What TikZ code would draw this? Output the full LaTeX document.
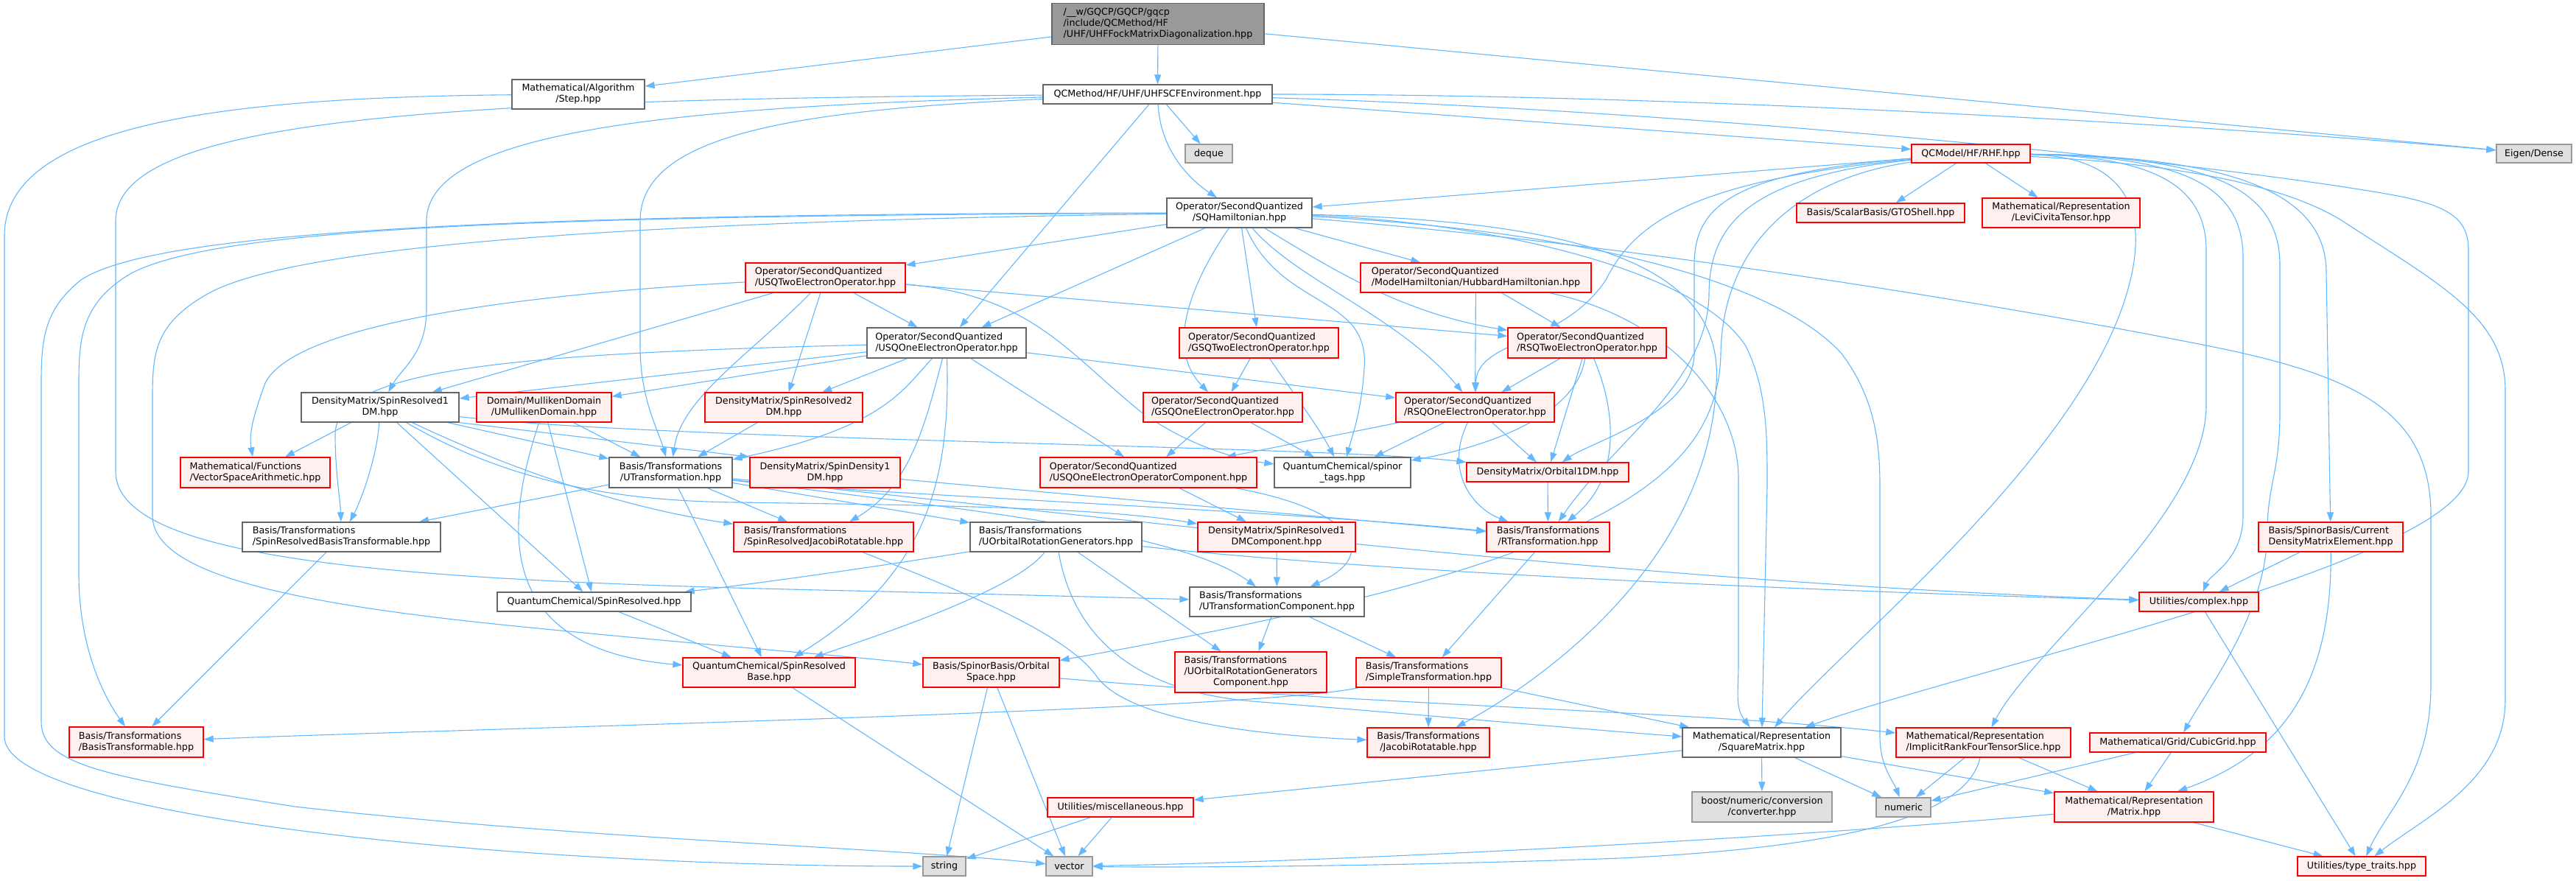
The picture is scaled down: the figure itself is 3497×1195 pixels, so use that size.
\documentclass[tikz,border=0pt]{standalone}
\usepackage{fontspec}
\setmainfont{DejaVu Sans}
\usetikzlibrary{arrows.meta}
\definecolor{edgeblue}{HTML}{63B8FF}
\definecolor{rfill}{HTML}{FFF0F0}
\definecolor{gfill}{HTML}{E0E0E0}
\definecolor{gborder}{HTML}{999999}
\definecolor{wborder}{HTML}{666666}
\definecolor{rootfill}{HTML}{999999}
\newcommand{\twol}[2]{\begin{tabular}{@{}l@{}}#1\\\multicolumn{1}{@{}c@{}}{#2}\end{tabular}}
\newcommand{\threel}[3]{\begin{tabular}{@{}l@{}}#1\\#2\\\multicolumn{1}{@{}c@{}}{#3}\end{tabular}}
\pgfdeclarelayer{edges}
\pgfsetlayers{edges,main}
\tikzset{
  box/.style={line width=1.3bp, inner sep=0pt, text=black, font=\fontsize{12.7bp}{15bp}\selectfont, minimum height=26bp},
  wbox/.style={box, draw=wborder, fill=white},
  rbox/.style={box, draw=red, fill=rfill},
  gbox/.style={box, draw=gborder, fill=gfill},
  rootbox/.style={box, draw=wborder, fill=rootfill},
  e/.style={draw=edgeblue, line width=1.1bp, -{Triangle[length=13bp,width=9bp]}}
}
\begin{document}
\begin{tikzpicture}[x=1bp,y=-1bp]
\useasboundingbox (0,0) rectangle (3497,1195);
% nodes
\node[rootbox, minimum width=288bp, minimum height=56bp] (root) at (1572,32.5) {\threel{/\_\_w/GQCP/GQCP/gqcp}{/include/QCMethod/HF}{/UHF/UHFFockMatrixDiagonalization.hpp}};
\node[wbox, minimum width=180bp, minimum height=40bp] (step) at (785,128) {\twol{Mathematical/Algorithm}{/Step.hpp}};
\node[wbox, minimum width=311bp] (uhfscf) at (1571.5,128) {QCMethod/HF/UHF/UHFSCFEnvironment.hpp};
\node[gbox, minimum width=64bp, minimum height=25bp] (deque) at (1641,208.5) {deque};
\node[rbox, minimum width=161bp, minimum height=25bp] (rhf) at (2675.5,208.5) {QCModel/HF/RHF.hpp};
\node[gbox, minimum width=102bp, minimum height=25bp] (eigen) at (3440,208.5) {Eigen/Dense};
\node[wbox, minimum width=197bp, minimum height=40bp] (sqham) at (1682.5,289) {\twol{Operator/SecondQuantized}{/SQHamiltonian.hpp}};
\node[rbox, minimum width=228bp] (gto) at (2553,289) {Basis/ScalarBasis/GTOShell.hpp};
\node[rbox, minimum width=214bp, minimum height=40bp] (levi) at (2798,289) {\twol{Mathematical/Representation}{/LeviCivitaTensor.hpp}};
\node[rbox, minimum width=217bp, minimum height=40bp] (usq2) at (1120.5,377) {\twol{Operator/SecondQuantized}{/USQTwoElectronOperator.hpp}};
\node[rbox, minimum width=313bp, minimum height=40bp] (hub) at (2003.5,377) {\twol{Operator/SecondQuantized}{/ModelHamiltonian/HubbardHamiltonian.hpp}};
\node[wbox, minimum width=216bp, minimum height=41bp] (usq1) at (1285,465.5) {\twol{Operator/SecondQuantized}{/USQOneElectronOperator.hpp}};
\node[rbox, minimum width=216bp, minimum height=41bp] (gsq2) at (1709,465.5) {\twol{Operator/SecondQuantized}{/GSQTwoElectronOperator.hpp}};
\node[rbox, minimum width=215bp, minimum height=41bp] (rsq2) at (2154.5,465.5) {\twol{Operator/SecondQuantized}{/RSQTwoElectronOperator.hpp}};
\node[wbox, minimum width=214bp, minimum height=40bp] (sr1dm) at (516,553) {\twol{DensityMatrix/SpinResolved1}{DM.hpp}};
\node[rbox, minimum width=183bp, minimum height=40bp] (umd) at (738.5,553) {\twol{Domain/MullikenDomain}{/UMullikenDomain.hpp}};
\node[rbox, minimum width=214bp, minimum height=40bp] (sr2dm) at (1064,553) {\twol{DensityMatrix/SpinResolved2}{DM.hpp}};
\node[rbox, minimum width=216bp, minimum height=40bp] (gsq1) at (1660,553) {\twol{Operator/SecondQuantized}{/GSQOneElectronOperator.hpp}};
\node[rbox, minimum width=215bp, minimum height=40bp] (rsq1) at (2002.5,553) {\twol{Operator/SecondQuantized}{/RSQOneElectronOperator.hpp}};
\node[rbox, minimum width=203bp, minimum height=41bp] (vsa) at (346.5,641.5) {\twol{Mathematical/Functions}{/VectorSpaceArithmetic.hpp}};
\node[wbox, minimum width=167bp, minimum height=41bp] (utr) at (910.5,641.5) {\twol{Basis/Transformations}{/UTransformation.hpp}};
\node[rbox, minimum width=204bp, minimum height=41bp] (sd1dm) at (1120,641.5) {\twol{DensityMatrix/SpinDensity1}{DM.hpp}};
\node[rbox, minimum width=294bp, minimum height=41bp] (usq1c) at (1559,641.5) {\twol{Operator/SecondQuantized}{/USQOneElectronOperatorComponent.hpp}};
\node[wbox, minimum width=185bp, minimum height=41bp] (spt) at (1822.5,641.5) {\twol{QuantumChemical/spinor}{\_tags.hpp}};
\node[rbox, minimum width=220bp] (o1dm) at (2101,641) {DensityMatrix/Orbital1DM.hpp};
\node[wbox, minimum width=269bp, minimum height=40bp] (srbt) at (463.5,729) {\twol{Basis/Transformations}{/SpinResolvedBasisTransformable.hpp}};
\node[rbox, minimum width=244bp, minimum height=40bp] (srjr) at (1118,729) {\twol{Basis/Transformations}{/SpinResolvedJacobiRotatable.hpp}};
\node[wbox, minimum width=233bp, minimum height=40bp] (uorg) at (1433.5,729) {\twol{Basis/Transformations}{/UOrbitalRotationGenerators.hpp}};
\node[rbox, minimum width=214bp, minimum height=40bp] (sr1dmc) at (1733,729) {\twol{DensityMatrix/SpinResolved1}{DMComponent.hpp}};
\node[rbox, minimum width=167bp, minimum height=40bp] (rtr) at (2101.5,729) {\twol{Basis/Transformations}{/RTransformation.hpp}};
\node[rbox, minimum width=196bp, minimum height=40bp] (cdme) at (3164,729) {\twol{Basis/SpinorBasis/Current}{DensityMatrixElement.hpp}};
\node[wbox, minimum width=263bp] (srv) at (806.5,817) {QuantumChemical/SpinResolved.hpp};
\node[wbox, minimum width=237bp, minimum height=40bp] (utc) at (1733.5,817) {\twol{Basis/Transformations}{/UTransformationComponent.hpp}};
\node[rbox, minimum width=162bp] (cplx) at (2985,817) {Utilities/complex.hpp};
\node[rbox, minimum width=234bp, minimum height=40bp] (srb) at (1044,913) {\twol{QuantumChemical/SpinResolved}{Base.hpp}};
\node[rbox, minimum width=185bp, minimum height=40bp] (osp) at (1345.5,913) {\twol{Basis/SpinorBasis/Orbital}{Space.hpp}};
\node[rbox, minimum width=206bp, minimum height=55bp] (uorgc) at (1698,912.5) {\threel{Basis/Transformations}{/UOrbitalRotationGenerators}{Component.hpp}};
\node[rbox, minimum width=197bp, minimum height=40bp] (stre) at (1939.5,913) {\twol{Basis/Transformations}{/SimpleTransformation.hpp}};
\node[rbox, minimum width=182bp, minimum height=41bp] (btf) at (185,1007.5) {\twol{Basis/Transformations}{/BasisTransformable.hpp}};
\node[rbox, minimum width=166bp, minimum height=40bp] (jac) at (1939,1008) {\twol{Basis/Transformations}{/JacobiRotatable.hpp}};
\node[wbox, minimum width=215bp, minimum height=40bp] (sqm) at (2391.5,1008) {\twol{Mathematical/Representation}{/SquareMatrix.hpp}};
\node[rbox, minimum width=237bp, minimum height=40bp] (ir4) at (2692.5,1008) {\twol{Mathematical/Representation}{/ImplicitRankFourTensorSlice.hpp}};
\node[rbox, minimum width=239bp] (cgrid) at (2956.5,1008) {Mathematical/Grid/CubicGrid.hpp};
\node[gbox, minimum width=190bp, minimum height=41bp] (boost) at (2392,1095.5) {\twol{boost/numeric/conversion}{/converter.hpp}};
\node[rbox, minimum width=198bp] (misc) at (1521,1096) {Utilities/miscellaneous.hpp};
\node[gbox, minimum width=74bp] (numeric) at (2584,1096) {numeric};
\node[rbox, minimum width=216bp, minimum height=41bp] (matrix) at (2897,1095.5) {\twol{Mathematical/Representation}{/Matrix.hpp}};
\node[gbox, minimum width=58bp] (string) at (1282,1176) {string};
\node[gbox, minimum width=63bp] (vector) at (1451.5,1176) {vector};
\node[rbox, minimum width=174bp] (tt) at (3206,1176) {Utilities/type\_traits.hpp};

\begin{pgfonlayer}{edges}
\fill[white] (0,0) rectangle (3497,1195);
% root
\draw[e] (root) -- (step);
\draw[e] (root) -- (uhfscf);
\draw[e] (root) -- (eigen);
% step
\draw[e] (step) .. controls (300,132) and (6,170) .. (6,320) -- (6,1000) .. controls (6,1110) and (700,1176) .. (string);
% uhfscf
\draw[e] (uhfscf) -- (deque);
\draw[e] (uhfscf) .. controls (1575,200) and (1610,240) .. (sqham);
\draw[e] (uhfscf) -- (rhf);
\draw[e] (uhfscf) .. controls (2300,128) and (3000,170) .. (eigen);
\draw[e] (uhfscf) -- (usq1);
\draw[e] (uhfscf) .. controls (900,145) and (579,180) .. (579,300) -- (579,420) .. controls (579,480) and (545,500) .. (sr1dm);
\draw[e] (uhfscf) .. controls (1050,150) and (869,190) .. (869,300) -- (869,470) .. controls (869,540) and (892,580) .. (utr);
\draw[e] (uhfscf) .. controls (600,135) and (157,160) .. (157,300) -- (157,640) .. controls (157,770) and (600,790) .. (1200,803) .. controls (1400,808) and (1550,812) .. (utc);
\draw[e] (uhfscf) .. controls (2300,150) and (3000,220) .. (3250,265) .. controls (3330,280) and (3351,300) .. (3351,340) -- (3351,640) .. controls (3351,760) and (2700,900) .. (sqm);
% rhf
\draw[e] (rhf) -- (sqham);
\draw[e] (rhf) -- (gto);
\draw[e] (rhf) -- (levi);
\draw[e] (rhf) .. controls (2300,245) and (2220,300) .. (2180,380) .. controls (2120,470) and (2005,460) .. (rsq1);
\draw[e] (rhf) .. controls (2350,235) and (2300,280) .. (2300,360) -- (2300,480) .. controls (2300,560) and (2160,600) .. (o1dm);
\draw[e] (rhf) .. controls (2380,240) and (2320,300) .. (2320,400) .. controls (2318,520) and (2190,600) .. (rtr);
\draw[e] (rhf) .. controls (2420,245) and (2338,350) .. (2336,480) .. controls (2332,660) and (2150,770) .. (osp);
\draw[e] (rhf) .. controls (2880,212) and (2930,280) .. (2880,420) .. controls (2800,640) and (2500,880) .. (sqm);
\draw[e] (rhf) .. controls (2920,212) and (2995,250) .. (2995,340) -- (2995,550) .. controls (2995,700) and (2760,880) .. (ir4);
\draw[e] (rhf) .. controls (2960,212) and (3045,250) .. (3045,350) -- (3045,700) .. controls (3045,760) and (3000,780) .. (cplx);
\draw[e] (rhf) .. controls (3000,212) and (3095,255) .. (3095,360) -- (3095,560) .. controls (3095,640) and (3078,660) .. (3078,720) .. controls (3078,830) and (3000,930) .. (cgrid);
\draw[e] (rhf) .. controls (3050,212) and (3158,270) .. (3158,370) -- (cdme);
\draw[e] (rhf) .. controls (2950,222) and (3100,250) .. (3180,300) .. controls (3310,385) and (3401,430) .. (3401,530) -- (3401,950) .. controls (3401,1060) and (3290,1110) .. (tt);
% sqham
\draw[e] (sqham) -- (usq2);
\draw[e] (sqham) -- (usq1);
\draw[e] (sqham) .. controls (1620,380) and (1580,470) .. (gsq1);
\draw[e] (sqham) -- (gsq2);
\draw[e] (sqham) .. controls (1740,420) and (1860,400) .. (1852,500) .. controls (1848,560) and (1836,590) .. (spt);
\draw[e] (sqham) .. controls (1760,380) and (1900,430) .. (rsq1);
\draw[e] (sqham) -- (hub);
\draw[e] (sqham) .. controls (1800,360) and (1900,425) .. (rsq2);
\draw[e] (sqham) .. controls (600,290) and (200,320) .. (110,380) .. controls (60,420) and (56,460) .. (56,520) -- (56,980) .. controls (56,1040) and (150,1055) .. (400,1095) .. controls (800,1140) and (1200,1150) .. (vector);
\draw[e] (sqham) .. controls (700,293) and (300,310) .. (180,370) .. controls (110,410) and (107,460) .. (107,520) -- (107,780) .. controls (107,860) and (130,930) .. (btf);
\draw[e] (sqham) .. controls (900,300) and (400,330) .. (280,400) .. controls (210,440) and (207,480) .. (207,540) -- (207,700) .. controls (207,780) and (400,820) .. (700,850) .. controls (1000,880) and (1150,890) .. (osp);
\draw[e] (sqham) .. controls (2200,330) and (2700,410) .. (3000,470) .. controls (3200,510) and (3300,560) .. (3300,700) -- (3300,930) .. controls (3300,1050) and (3240,1100) .. (tt);
\draw[e] (sqham) .. controls (2100,310) and (2400,370) .. (2500,480) .. controls (2545,540) and (2552,600) .. (2552,660) -- (2552,1000) .. controls (2552,1040) and (2570,1060) .. (numeric);
\draw[e] (sqham) .. controls (2150,300) and (2340,360) .. (2330,520) .. controls (2320,760) and (2100,920) .. (jac);
\draw[e] (sqham) .. controls (2000,300) and (2300,360) .. (2370,470) .. controls (2400,530) and (2399,600) .. (2399,660) -- (sqm);
% usq2
\draw[e] (usq2) .. controls (700,400) and (400,440) .. (360,520) .. controls (342,570) and (338,590) .. (vsa);
\draw[e] (usq2) -- (sr1dm);
\draw[e] (usq2) .. controls (1020,480) and (925,540) .. (utr);
\draw[e] (usq2) -- (sr2dm);
\draw[e] (usq2) -- (usq1);
\draw[e] (usq2) -- (rsq2);
\draw[e] (usq2) .. controls (1400,400) and (1450,480) .. (1550,560) .. controls (1620,610) and (1690,625) .. (spt);
% usq1
\draw[e] (usq1) -- (sr1dm);
\draw[e] (usq1) -- (umd);
\draw[e] (usq1) .. controls (700,480) and (455,500) .. (455,590) .. controls (455,640) and (462,680) .. (srbt);
\draw[e] (usq1) -- (sr2dm);
\draw[e] (usq1) .. controls (1225,530) and (1200,580) .. (utr);
\draw[e] (usq1) .. controls (1255,580) and (1235,660) .. (srjr);
\draw[e] (usq1) -- (usq1c);
\draw[e] (usq1) -- (rsq1);
\draw[e] (usq1) .. controls (1290,650) and (1260,780) .. (srb);
% sr1dm
\draw[e] (sr1dm) -- (vsa);
\draw[e] (sr1dm) .. controls (512,620) and (490,680) .. (srbt);
\draw[e] (sr1dm) -- (srv);
\draw[e] (sr1dm) .. controls (700,640) and (850,690) .. (srjr);
\draw[e] (sr1dm) -- (utr);
\draw[e] (sr1dm.south east) -- (sd1dm.north west);
\draw[e] (sr1dm) .. controls (900,598) and (1800,605) .. (o1dm.north west);
\draw[e] (sr1dm) .. controls (700,660) and (850,680) .. (1000,682) .. controls (1300,686) and (1500,690) .. (sr1dmc);
% umd
\draw[e] (umd) -- (utr);
\draw[e] (umd) .. controls (690,700) and (660,880) .. (srb);
\draw[e] (umd) -- (srv);
% sr2dm, sd1dm
\draw[e] (sr2dm) -- (utr);
\draw[e] (sd1dm) -- (rtr);
% usq1c, sr1dmc
\draw[e] (usq1c) -- (sr1dmc);
\draw[e] (usq1c) .. controls (1830,690) and (1880,750) .. (utc);
\draw[e] (sr1dmc) -- (utc);
% gsq2, gsq1
\draw[e] (gsq2) -- (gsq1);
\draw[e] (gsq2) .. controls (1760,540) and (1790,580) .. (spt);
\draw[e] (gsq1) -- (usq1c);
\draw[e] (gsq1) -- (spt);
% rsq2
\draw[e] (rsq2) -- (rsq1);
\draw[e] (rsq2) .. controls (2140,570) and (2000,610) .. (spt);
\draw[e] (rsq2) -- (o1dm);
\draw[e] (rsq2) .. controls (2195,560) and (2200,650) .. (rtr);
% rsq1
\draw[e] (rsq1) -- (usq1c);
\draw[e] (rsq1) -- (spt);
\draw[e] (rsq1) -- (o1dm);
\draw[e] (rsq1) .. controls (1960,640) and (2000,690) .. (rtr);
% hub
\draw[e] (hub) -- (rsq1);
\draw[e] (hub) -- (rsq2);
\draw[e] (hub) .. controls (2260,430) and (2360,540) .. (2360,650) -- (2360,900) .. controls (2360,940) and (2355,960) .. (sqm);
% utr
\draw[e] (utr) -- (srbt);
\draw[e] (utr) -- (srjr);
\draw[e] (utr) -- (uorg);
\draw[e] (utr) .. controls (1300,690) and (1600,720) .. (utc);
\draw[e] (utr) .. controls (1150,670) and (1700,690) .. (rtr);
\draw[e] (utr) .. controls (1500,700) and (2200,790) .. (cplx);
\draw[e] (utr) -- (srb);
% srbt, srjr
\draw[e] (srbt) -- (btf);
\draw[e] (srjr) .. controls (1300,800) and (1450,860) .. (1490,920) .. controls (1540,985) and (1750,1000) .. (jac);
% uorg
\draw[e] (uorg) .. controls (1250,760) and (1050,790) .. (srv);
\draw[e] (uorg) .. controls (1380,800) and (1200,860) .. (srb);
\draw[e] (uorg) -- (uorgc);
\draw[e] (uorg) .. controls (1900,780) and (2550,805) .. (cplx);
\draw[e] (uorg) .. controls (1460,880) and (1560,940) .. (1700,952) .. controls (1950,972) and (2150,990) .. (sqm);
% rtr, o1dm
\draw[e] (rtr) -- (stre);
\draw[e] (o1dm) -- (rtr);
% cdme
\draw[e] (cdme) -- (cplx);
\draw[e] (cdme) .. controls (3166,950) and (3080,1030) .. (matrix);
% srv, utc, cplx, srb
\draw[e] (srv) -- (srb);
\draw[e] (utc) -- (uorgc);
\draw[e] (utc) -- (stre);
\draw[e] (cplx) -- (tt);
\draw[e] (srb) -- (vector);
% osp
\draw[e] (osp) -- (string);
\draw[e] (osp) -- (vector);
\draw[e] (osp) .. controls (1900,960) and (2300,965) .. (ir4);
% stre
\draw[e] (stre) .. controls (1700,965) and (600,990) .. (btf);
\draw[e] (stre) -- (jac);
\draw[e] (stre) -- (sqm);
% sqm
\draw[e] (sqm) -- (boost);
\draw[e] (sqm) -- (numeric);
\draw[e] (sqm) -- (matrix);
\draw[e] (sqm) -- (misc);
% ir4
\draw[e] (ir4) -- (numeric);
\draw[e] (ir4) -- (matrix);
\draw[e] (ir4) .. controls (2670,1110) and (2500,1150) .. (2200,1165) .. controls (1900,1176) and (1600,1178) .. (vector);
% cgrid
\draw[e] (cgrid) -- (numeric);
\draw[e] (cgrid) -- (matrix);
% matrix
\draw[e] (matrix) -- (tt);
\draw[e] (matrix) .. controls (2400,1140) and (1800,1170) .. (vector);
% misc
\draw[e] (misc) -- (string);
\draw[e] (misc) -- (vector);
\end{pgfonlayer}
\end{tikzpicture}
\end{document}
